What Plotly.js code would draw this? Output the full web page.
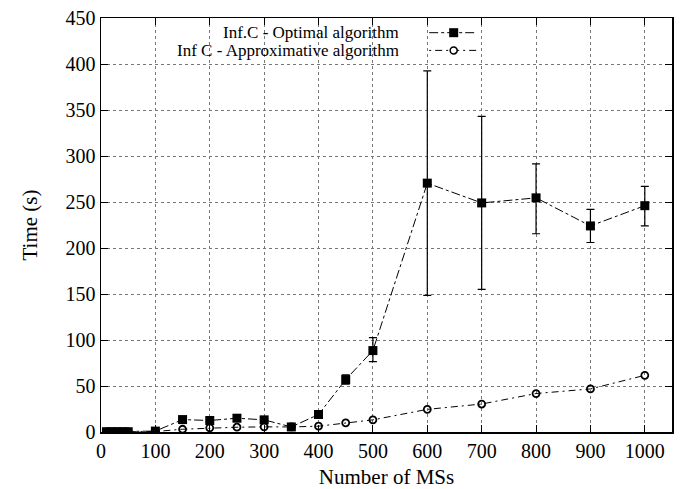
<!DOCTYPE html>
<html>
<head>
<meta charset="utf-8">
<script src="https://cdn.plot.ly/plotly-3.0.1.min.js"></script>
<style>html,body{margin:0;padding:0;background:#fff;}#chart{width:683px;height:489px;}</style>
</head>
<body>
<div id="chart"></div>
<script>
// Data
const xOptimal = [10, 20, 30, 40, 50, 100, 150, 200, 250, 300, 350, 400, 450, 500, 600, 700, 800, 900, 1000];
const yOptimal = [0.3, 0.3, 0.3, 0.3, 0.3, 1, 13.5, 12.5, 15, 13.2, 5.5, 19, 57, 88.5, 270.5, 249, 254.5, 224, 246];
const errOptimalUp = [0, 0, 0, 0, 0, 0.5, 1, 1, 1, 1, 1, 4, 5, 14, 122, 94, 37, 18, 21];
const errOptimalDown = [0, 0, 0, 0, 0, 0.5, 1, 1, 1, 1, 1, 3, 5, 12, 122, 94, 39, 18, 22];

const xApprox = [10, 20, 30, 40, 50, 100, 150, 200, 250, 300, 350, 400, 450, 500, 600, 700, 800, 900, 1000];
const yApprox = [0.1, 0.1, 0.1, 0.1, 0.1, 0.5, 3, 4.5, 5.2, 5.6, 5.5, 6.3, 10, 13.2, 24.6, 30.4, 41.8, 46.8, 61.6];

const xTicks = [0, 100, 200, 300, 400, 500, 600, 700, 800, 900, 1000];
const yTicks = [0, 50, 100, 150, 200, 250, 300, 350, 400, 450];

const legendLabels = ["Inf.C - Optimal algorithm", "Inf C - Approximative algorithm"];

const FONT = "Liberation Serif";

const traces = [
  {
    x: xApprox, y: yApprox, type: "scatter", mode: "lines+markers",
    name: legendLabels[1], showlegend: false,
    line: {color: "#000", width: 1, dash: "2px,4px,7px,4px"},
    marker: {symbol: "circle-open", size: 7, color: "#000", line: {width: 1.8, color: "#000"}}
  },
  {
    x: xOptimal, y: yOptimal, type: "scatter", mode: "lines+markers",
    name: legendLabels[0], showlegend: false,
    line: {color: "#000", width: 1, dash: "dashdot"},
    marker: {symbol: "square", size: 9, color: "#000"},
    error_y: {type: "data", symmetric: false, array: errOptimalUp, arrayminus: errOptimalDown,
              color: "#000", thickness: 1.2, width: 4}
  }
];

// Legend drawn in gnuplot style (text left, sample right) in paper coordinates
const L = 101, R = 671.7, T = 18.3, B = 432.5;
const px = v => (v - L) / (R - L);
const py = v => (B - v) / (B - T);

const shapes = [
  {type: "rect", xref: "paper", yref: "paper", layer: "between",
   x0: px(150), x1: px(490), y0: py(59), y1: py(26), fillcolor: "#fff", line: {width: 0}},
  {type: "line", xref: "paper", yref: "paper", x0: px(429), x1: px(477), y0: py(33), y1: py(33),
   line: {color: "#000", width: 1, dash: "dashdot"}},
  {type: "rect", xref: "paper", yref: "paper", x0: px(449), x1: px(458), y0: py(37.5), y1: py(28.5),
   fillcolor: "#000", line: {width: 0}},
  {type: "line", xref: "paper", yref: "paper", x0: px(429), x1: px(476), y0: py(50.7), y1: py(50.7),
   line: {color: "#000", width: 1, dash: "2px,4px,7px,4px"}},
  {type: "circle", xref: "paper", yref: "paper", x0: px(450), x1: px(457), y0: py(54.2), y1: py(47.2),
   fillcolor: "#fff", line: {color: "#000", width: 1.5}}
];

const annotations = [
  {xref: "paper", yref: "paper", x: px(401), y: py(33), xanchor: "right", yanchor: "middle",
   text: legendLabels[0], showarrow: false, font: {family: FONT, size: 17, color: "#000"}},
  {xref: "paper", yref: "paper", x: px(401), y: py(50.7), xanchor: "right", yanchor: "middle",
   text: legendLabels[1], showarrow: false, font: {family: FONT, size: 17, color: "#000"}}
];

const layout = {
  width: 683, height: 489,
  margin: {l: 101, r: 11.3, t: 18.3, b: 56.5},
  paper_bgcolor: "#fff", plot_bgcolor: "#fff",
  font: {family: FONT, size: 20, color: "#000"},
  showlegend: false,
  xaxis: {
    range: [0, 1050], tickvals: xTicks, ticktext: xTicks.map(String),
    ticks: "inside", ticklen: 7, tickcolor: "#000", tickwidth: 1,
    showline: true, linecolor: "#000", linewidth: 1.5, mirror: "ticks",
    showgrid: true, gridcolor: "#777", griddash: "dot", gridwidth: 1,
    zeroline: false,
    tickfont: {family: FONT, size: 20},
    title: {text: "Number of MSs", font: {family: FONT, size: 21}, standoff: 9}
  },
  yaxis: {
    range: [0, 450], tickvals: yTicks, ticktext: yTicks.map(String),
    ticks: "inside", ticklen: 7, tickcolor: "#000", tickwidth: 1,
    showline: true, linecolor: "#000", linewidth: 1.5, mirror: "ticks",
    showgrid: true, gridcolor: "#777", griddash: "dot", gridwidth: 1,
    zeroline: false,
    tickfont: {family: FONT, size: 20},
    title: {text: "Time (s)", font: {family: FONT, size: 21}, standoff: 22}
  },
  shapes: shapes,
  annotations: annotations
};

Plotly.newPlot("chart", traces, layout, {displayModeBar: false, staticPlot: true});
</script>
</body>
</html>
